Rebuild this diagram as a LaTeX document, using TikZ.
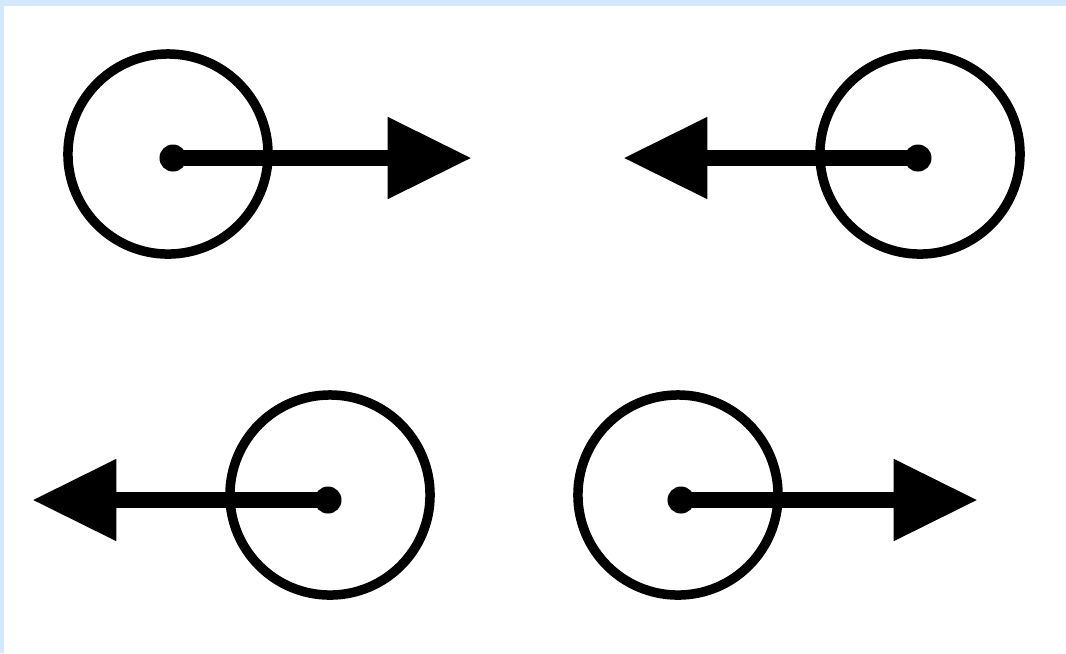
\documentclass[tikz,border=0pt]{standalone}
\usepackage{tikz}
\usetikzlibrary{arrows.meta}
\usepackage{xcolor}
\definecolor{edgeblue}{RGB}{212,232,251}

\begin{document}
\begin{tikzpicture}[x=0.01cm, y=-0.01cm,
    ball/.style={draw, circle, line width=2.7pt, minimum size=2cm, inner sep=0pt},
    pin/.style={circle, fill=black, minimum size=0.27cm, inner sep=0pt},
    vec/.style={-{Triangle[length=24pt, width=22pt]}, line width=4.8pt}]
  \useasboundingbox (0,0) rectangle (1066,653);
  % --- frame strips ---
  \fill[edgeblue] (0,0) rectangle (1066,6);
  \fill[edgeblue] (0,0) rectangle (4,653);
  % --- circles ---
  \node[ball] (tl) at (168,154) {};
  \node[ball] (tr) at (920,154) {};
  \node[ball] (bl) at (330,495) {};
  \node[ball] (br) at (678,495) {};
  % --- centre points ---
  \node[pin] (tlc) at (173,158) {};
  \node[pin] (trc) at (918,158) {};
  \node[pin] (blc) at (328,500) {};
  \node[pin] (brc) at (681,500) {};
  % --- arrow tips ---
  \coordinate (tlt) at (472,158);
  \coordinate (trt) at (623,158);
  \coordinate (blt) at (32,500);
  \coordinate (brt) at (978,500);
  % --- arrows ---
  \draw[vec] (tlc.center) -- (tlt);
  \draw[vec] (trc.center) -- (trt);
  \draw[vec] (blc.center) -- (blt);
  \draw[vec] (brc.center) -- (brt);
\end{tikzpicture}
\end{document}
